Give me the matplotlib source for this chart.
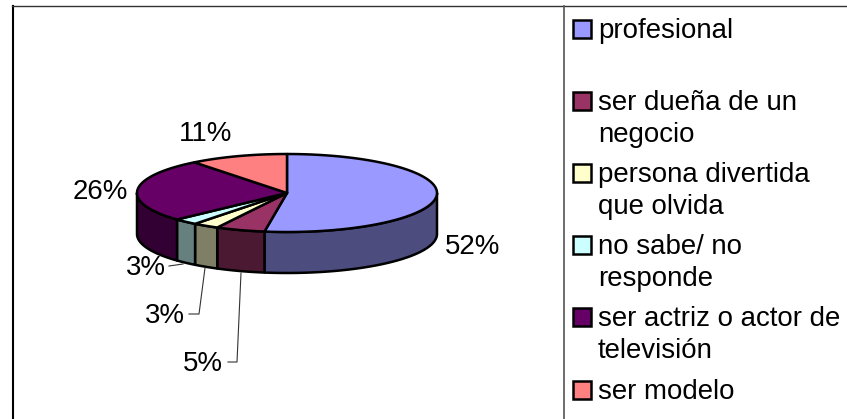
import numpy as np
import matplotlib
matplotlib.use('Agg')
import matplotlib.pyplot as plt
from matplotlib.patches import Polygon, Rectangle

plt.rcParams['font.family'] = ['Liberation Sans', 'DejaVu Sans']

# values
categories = ['profesional', 'ser dueña de un\nnegocio', 'persona divertida\nque olvida',
              'no sabe/ no\nresponde', 'ser actriz o actor de\ntelevisión', 'ser modelo']
values = [52.4, 5.3, 2.8, 2.6, 26.3, 10.6]
labels = ['52%', '5%', '3%', '3%', '26%', '11%']
top_colors = ['#9999FF', '#993366', '#FFFFCC', '#CCFFFF', '#660066', '#FF8080']
side_colors = ['#4C4C7F', '#4C1933', '#7F7F66', '#667F7F', '#330033', '#7F4040']

# pie geometry in pixels
cx, cy = 287, 193
a, b = 150, 39
depth = 41
EDGE = 1.8
FONT = 19.9
TEXT_DY = 1.5


def rim(t):
    t = np.radians(t)
    return cx + a * np.sin(t), cy - b * np.cos(t)


fig = plt.figure(figsize=(8.47, 4.19), dpi=100)
ax = fig.add_axes([0, 0, 1, 1])
ax.set_xlim(0, 847)
ax.set_ylim(419, 0)
ax.axis('off')

# chart frame
ax.plot([12.5, 12.5], [6, 419], color='black', lw=1.5)
ax.plot([12, 847], [6.5, 6.5], color='#333333', lw=1.0)
ax.plot([564, 564], [6.5, 419], color='#555555', lw=1.2)

edges = np.cumsum([0] + values) / sum(values) * 360

# side wall, only the front half shows
for i in range(len(values)):
    t0, t1 = max(edges[i], 90), min(edges[i + 1], 270)
    if t1 <= t0:
        continue
    x, y = rim(np.linspace(t0, t1, 80))
    pts = np.column_stack([np.r_[x, x[::-1]], np.r_[y, y[::-1] + depth]])
    ax.add_patch(Polygon(pts, closed=True, fc=side_colors[i], ec='black', lw=EDGE, joinstyle='round'))

# top face
for i in range(len(values)):
    x, y = rim(np.linspace(edges[i], edges[i + 1], 120))
    pts = np.column_stack([np.r_[cx, x], np.r_[cy, y]])
    ax.add_patch(Polygon(pts, closed=True, fc=top_colors[i], ec='black', lw=EDGE, joinstyle='round'))

# data labels and leader lines
label_pos = [(473, 245), (203, 362), (165, 314), (145.5, 266), (100, 190), (206, 132)]
for lab, (lx, ly) in zip(labels, label_pos):
    ax.text(lx, ly + TEXT_DY, lab, fontsize=FONT, ha='center', va='center', color='black')
leaders = [([241, 237, 228], [273, 362, 362]),
           ([205, 199, 189], [268, 314, 314]),
           ([183, 169], [264, 266])]
for lx, ly in leaders:
    ax.plot(lx, ly, color='#333333', lw=0.8)

# legend
legend_y = [29, 101, 173, 245, 317, 390]
for cat, col, ly in zip(categories, top_colors, legend_y):
    ax.add_patch(Rectangle((573, ly - 9), 18, 18, fc=col, ec='black', lw=EDGE))
    lines = cat.split('\n')
    for j, line in enumerate(lines):
        ax.text(598, ly + j * 32 + TEXT_DY, line, fontsize=FONT, ha='left', va='center', color='black')

fig.savefig('out.png', dpi=100)
